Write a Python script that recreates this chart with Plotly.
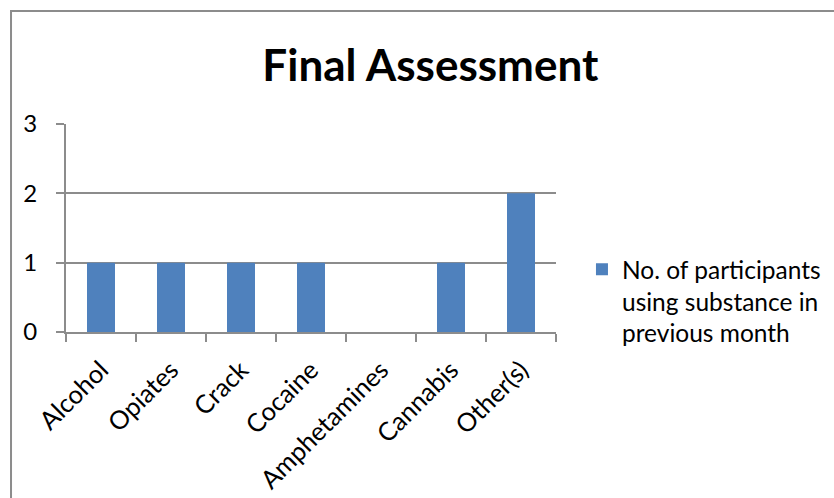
import plotly.graph_objects as go

categories = ["Alcohol", "Opiates", "Crack", "Cocaine", "Amphetamines", "Cannabis", "Other(s)"]
values = [1, 1, 1, 1, 0, 1, 2]
series_name = "No. of participants<br>using substance in<br>previous month"
y_ticks = [0, 1, 2, 3]

FONT = "Lato"
GRAY = "#8c8c8c"

fig = go.Figure()
fig.add_trace(go.Bar(
    x=categories, y=values, name=series_name,
    marker=dict(color="#4F81BD", line=dict(width=0)),
    showlegend=True,
))

fig.update_layout(
    width=834, height=498,
    margin=dict(l=66, r=278, t=124, b=166, autoexpand=False),
    paper_bgcolor="white", plot_bgcolor="white",
    font=dict(family=FONT, size=24, color="black"),
    bargap=0.6,
    title=dict(text="<b>Final Assessment</b>", x=0.516, xref="container",
               y=0.869, yref="container", xanchor="center", yanchor="middle",
               font=dict(family=FONT, size=44, color="black")),
    showlegend=True,
    legend=dict(x=1.053, xanchor="left", y=0.41, yanchor="top", valign="top",
                font=dict(family=FONT, size=24.5, color="black"),
                itemwidth=30, tracegroupgap=0),
    xaxis=dict(type="category", showline=True, linecolor=GRAY, linewidth=2,
               ticks="outside", tickson="boundaries", ticklen=8, tickcolor=GRAY, tickwidth=2,
               tickangle=-45, showgrid=False, ticklabelstandoff=11, automargin=False,
               tickfont=dict(family=FONT, size=25.5)),
    yaxis=dict(range=[0, 3], tickvals=y_ticks, showline=True, linecolor=GRAY, linewidth=2,
               ticks="outside", ticklen=8, tickcolor=GRAY, tickwidth=2,
               showgrid=True, gridcolor=GRAY, gridwidth=2, zeroline=False, automargin=False,
               ticklabelstandoff=14, tickfont=dict(family=FONT, size=24)),
    shapes=[dict(type="rect", xref="paper", yref="paper",
                 x0=-0.1122, x1=1.6, y0=-1.0, y1=1.543,
                 line=dict(color=GRAY, width=2), fillcolor="rgba(0,0,0,0)", layer="below")],
)

fig.write_html("out.html", config={"displayModeBar": False},
               post_script="document.body.style.margin='0';")
